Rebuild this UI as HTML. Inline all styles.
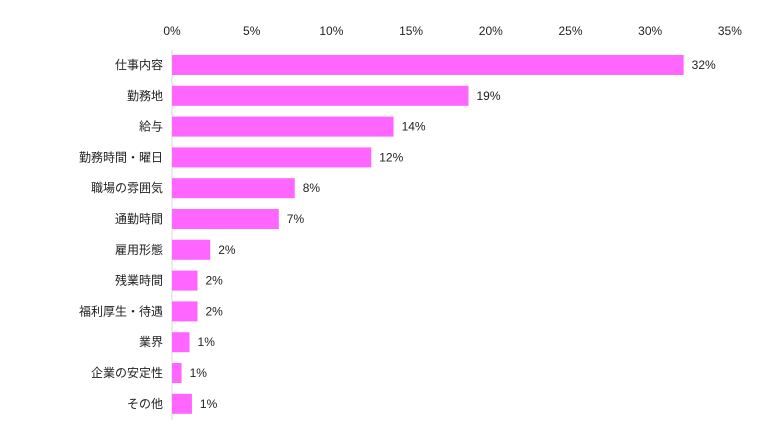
<!DOCTYPE html>
<html><head><meta charset="utf-8"><style>
body{margin:0;background:#fff;}
svg text{font-family:"Liberation Sans","Noto Sans CJK JP",sans-serif;font-size:12px;fill:#222;}
</style></head><body>
<svg id="chart" width="775" height="433" xmlns="http://www.w3.org/2000/svg"></svg>
<script>
const categories=["仕事内容","勤務地","給与","勤務時間・曜日","職場の雰囲気","通勤時間","雇用形態","残業時間","福利厚生・待遇","業界","企業の安定性","その他"];
const values=[32.1,18.6,13.9,12.5,7.7,6.7,2.4,1.6,1.6,1.1,0.6,1.25];
const valueLabels=["32%","19%","14%","12%","8%","7%","2%","2%","2%","1%","1%","1%"];
const ticks=[0,5,10,15,20,25,30,35];
const svg=document.getElementById('chart');
const NS='http://www.w3.org/2000/svg';
const x0=172,pxPer=15.94;
function xs(v){return x0+v*pxPer;}
function ys(i){return 65+i*30.8;}
function mk(t,a){const e=document.createElementNS(NS,t);for(const k in a)e.setAttribute(k,a[k]);svg.appendChild(e);return e;}
ticks.forEach(t=>{
  const e=mk('text',{x:xs(t),y:35,'text-anchor':'middle'});e.textContent=t+'%';
  
  
});
const ax=mk('line',{x1:x0,y1:50,x2:x0,y2:420,stroke:'#d9d9d9','stroke-width':1});


categories.forEach((c,i)=>{
  const y=ys(i);
  const l=mk('text',{x:163,y:y+4,'text-anchor':'end'});l.textContent=c;
  
  
  const r=mk('rect',{x:x0,y:y-10,width:xs(values[i])-x0,height:20,fill:'#ff66ff'});
  
  
  const v=mk('text',{x:xs(values[i])+8,y:y+4});v.textContent=valueLabels[i];
  
  
});
</script>
</body></html>
